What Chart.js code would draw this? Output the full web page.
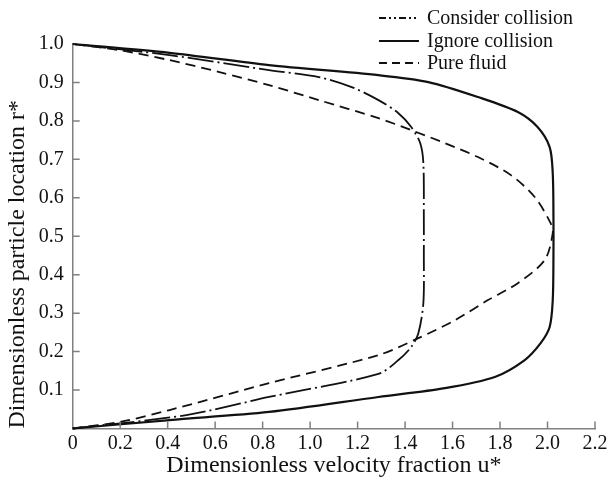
<!DOCTYPE html>
<html>
<head>
<meta charset="utf-8">
<script src="https://cdn.jsdelivr.net/npm/chart.js@4.4.1/dist/chart.umd.min.js"></script>
<style>
  html, body { margin: 0; padding: 0; background: #fff; }
  #wrap { width: 611px; height: 486px; position: relative; }
</style>
</head>
<body>
<div id="wrap"><canvas id="c" width="611" height="486"></canvas></div>
<script>
// ---- Data ----
const seriesNames = ["Consider collision", "Ignore collision", "Pure fluid"];

const considerU = [0, 0.479, 0.827, 1.288, 1.372, 1.426, 1.456, 1.477, 1.479, 1.479, 1.477, 1.464, 1.426, 1.372, 1.288, 1.175, 1.037, 0.827, 0.408, 0];
const considerR = [0, 0.035, 0.082, 0.142, 0.178, 0.212, 0.248, 0.326, 0.45, 0.55, 0.69, 0.742, 0.784, 0.820, 0.854, 0.888, 0.914, 0.932, 0.971, 1];

const ignoreU = [0, 0.408, 0.827, 1.288, 1.568, 1.778, 1.904, 1.971, 2.009, 2.022, 2.025, 2.025, 2.022, 2.009, 1.958, 1.875, 1.707, 1.498, 1.288, 0.827, 0.408, 0];
const ignoreR = [0, 0.022, 0.043, 0.082, 0.105, 0.134, 0.178, 0.222, 0.264, 0.334, 0.45, 0.55, 0.664, 0.732, 0.784, 0.823, 0.862, 0.901, 0.919, 0.945, 0.977, 1];

const pureU = [0, 0.198, 0.408, 0.827, 1.288, 1.456, 1.611, 1.749, 1.875, 1.988, 2.022, 2.013, 1.946, 1.846, 1.707, 1.568, 1.426, 1.288, 1.037, 0.827, 0.618, 0.408, 0.198, 0];
const pureR = [0, 0.017, 0.048, 0.118, 0.191, 0.235, 0.282, 0.334, 0.378, 0.438, 0.508, 0.534, 0.602, 0.659, 0.706, 0.742, 0.776, 0.807, 0.854, 0.893, 0.927, 0.958, 0.984, 1];

const xTickValues = [0, 0.2, 0.4, 0.6, 0.8, 1.0, 1.2, 1.4, 1.6, 1.8, 2.0, 2.2];
const yTickValues = [0.1, 0.2, 0.3, 0.4, 0.5, 0.6, 0.7, 0.8, 0.9, 1.0];

const xTitle = "Dimensionless velocity fraction u*";
const yTitle = "Dimensionless particle location r*";

// ---- Build ----
const toPts = (us, rs) => us.map((u, i) => ({x: u, y: rs[i]}));
const FONT = "'Liberation Serif', 'Times New Roman', serif";
const INK = "#111";
const AXIS = "#808080";

const dashes = [[26, 4, 2, 4], [], [10, 6]];
const legendDashes = [[7, 3, 2, 3, 2, 3], [], [8, 5]];

const datasets = [
  {label: seriesNames[0], data: toPts(considerU, considerR), borderDash: dashes[0], borderWidth: 1.8},
  {label: seriesNames[1], data: toPts(ignoreU, ignoreR), borderDash: dashes[1], borderWidth: 2.2},
  {label: seriesNames[2], data: toPts(pureU, pureR), borderDash: dashes[2], borderWidth: 1.8}
].map(d => Object.assign(d, {
  showLine: true, borderColor: INK, backgroundColor: INK, pointRadius: 0,
  tension: 0.3, fill: false, clip: false
}));

const inwardTicks = {
  id: 'inwardTicks',
  afterDraw(chart) {
    const ctx = chart.ctx;
    const xs = chart.scales.x, ys = chart.scales.y;
    const a = chart.chartArea;
    ctx.save();
    ctx.strokeStyle = AXIS;
    ctx.lineWidth = 1.5;
    ctx.beginPath();
    xTickValues.forEach(v => {
      if (v === 0) return;
      const px = xs.getPixelForValue(v);
      ctx.moveTo(px, a.bottom); ctx.lineTo(px, a.bottom - 7);
    });
    yTickValues.forEach(v => {
      if (v === 1.0) return;
      const py = ys.getPixelForValue(v);
      ctx.moveTo(a.left, py); ctx.lineTo(a.left + 7, py);
    });
    ctx.stroke();
    ctx.restore();
  }
};

const customLegend = {
  id: 'customLegend',
  afterDraw(chart) {
    const ctx = chart.ctx;
    ctx.save();
    ctx.font = "20px " + FONT;
    ctx.fillStyle = INK;
    ctx.textBaseline = 'middle';
    const rows = [18, 41, 63];
    chart.data.datasets.forEach((d, i) => {
      const y = rows[i];
      ctx.beginPath();
      ctx.strokeStyle = INK;
      ctx.lineWidth = d.borderWidth;
      ctx.setLineDash(legendDashes[i]);
      ctx.moveTo(379, y); ctx.lineTo(419, y);
      ctx.stroke();
      ctx.setLineDash([]);
      ctx.fillText(d.label, 427, y + 1);
    });
    ctx.restore();
  }
};

new Chart(document.getElementById('c'), {
  type: 'scatter',
  data: {datasets},
  options: {
    responsive: false,
    animation: false,
    devicePixelRatio: 1,
    layout: {padding: {top: 44, right: 13.3, left: 0, bottom: 0}},
    plugins: {legend: {display: false}, tooltip: {enabled: false}},
    scales: {
      x: {
        type: 'linear', min: 0, max: 2.2,
        afterBuildTicks: s => { s.ticks = xTickValues.map(v => ({value: v})); },
        afterFit: s => { s.height = 57.5; },
        grid: {display: false, drawTicks: false, tickLength: 0},
        border: {display: true, color: AXIS, width: 1.5},
        ticks: {
          color: INK, padding: 3.5,
          font: {family: FONT, size: 20},
          maxRotation: 0, autoSkip: false,
          callback: v => v === 0 ? "0" : Number(v).toFixed(1)
        },
        title: {
          display: true, text: xTitle, color: INK,
          font: {family: FONT, size: 24},
          padding: {top: 0, bottom: 5.6}
        }
      },
      y: {
        type: 'linear', min: 0, max: 1.0,
        afterBuildTicks: s => { s.ticks = yTickValues.map(v => ({value: v})); },
        afterFit: s => { s.width = 72.7; },
        grid: {display: false, drawTicks: false, tickLength: 0},
        border: {display: true, color: AXIS, width: 1.5},
        ticks: {
          color: INK, padding: 9,
          font: {family: FONT, size: 20},
          autoSkip: false,
          callback: v => Number(v).toFixed(1)
        },
        title: {
          display: true, text: yTitle, color: INK, align: 'start',
          font: {family: FONT, size: 24},
          padding: {top: 3.6, bottom: 0}
        }
      }
    }
  },
  plugins: [inwardTicks, customLegend]
});
</script>
</body>
</html>
